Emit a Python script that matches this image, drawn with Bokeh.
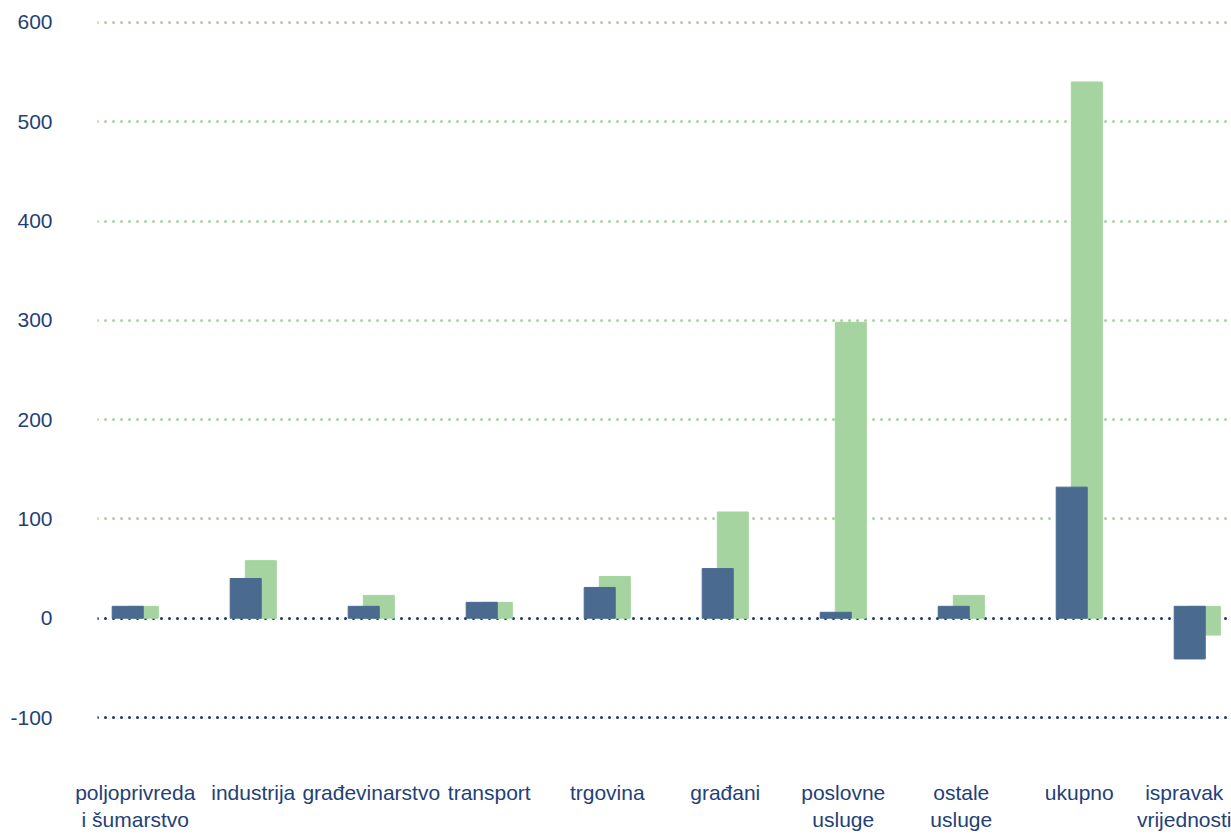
from bokeh.plotting import figure
from bokeh.models import Range1d, FixedTicker, Grid, ColumnDataSource
from bokeh.embed import file_html
from bokeh.resources import INLINE

categories = ["poljoprivreda\ni šumarstvo", "industrija", "građevinarstvo", "transport",
              "trgovina", "građani", "poslovne\nusluge", "ostale\nusluge", "ukupno",
              "ispravak\nvrijednosti"]
series_a_top = [12, 40, 12, 16, 31, 50, 6, 12, 132, 12]
series_a_bottom = [0, 0, 0, 0, 0, 0, 0, 0, 0, -41]
series_b_top = [12, 58, 23, 16, 42, 107, 298, 23, 540, 12]
series_b_bottom = [0, 0, 0, 0, 0, 0, 0, 0, 0, -17]
y_ticks = [-100, 0, 100, 200, 300, 400, 500, 600]
y_tick_labels = ["-100", "0", "100", "200", "300", "400", "500", "600"]

BLUE = "#4b6a90"
GREEN = "#a6d4a0"
NAVY = "#1b3766"
TEXT = "#1f4178"
FONT = "Liberation Sans"

idx = list(range(len(categories)))
off = 0.064
w = 0.263
Y0, Y1 = -105, 614

src = ColumnDataSource(dict(
    xa=[i - off for i in idx], xb=[i + off for i in idx],
    at=series_a_top, ab=series_a_bottom, bt=series_b_top, bb=series_b_bottom))

p = figure(width=1231, height=835, output_backend="svg", toolbar_location=None,
           x_range=Range1d(-0.32, 9.29), y_range=Range1d(Y0, Y1),
           min_border_left=97, min_border_right=0, min_border_top=8, min_border_bottom=113)
p.outline_line_color = None
p.background_fill_color = "white"

p.vbar(x="xb", top="bt", bottom="bb", width=w, color=GREEN, source=src)
p.vbar(x="xa", top="at", bottom="ab", width=w, color=BLUE, source=src)

p.xgrid.visible = False
p.ygrid.ticker = FixedTicker(ticks=[t for t in y_ticks if t > 0])
p.ygrid.grid_line_color = GREEN
p.ygrid.grid_line_dash = "0 8"
p.ygrid.grid_line_width = 3
p.ygrid.grid_line_cap = "round"

g2 = Grid(dimension=1, ticker=FixedTicker(ticks=[t for t in y_ticks if t <= 0]),
          grid_line_color=NAVY, grid_line_dash="0 8", grid_line_width=3,
          grid_line_cap="round")
p.add_layout(g2)

ya = p.yaxis[0]
ya.ticker = FixedTicker(ticks=y_ticks)
ya.major_label_overrides = {t: l for t, l in zip(y_ticks, y_tick_labels)}
ya.axis_line_color = None
ya.major_tick_line_color = None
ya.minor_tick_line_color = None
ya.major_tick_out = 0
ya.minor_tick_out = 0
ya.major_label_text_font = FONT
ya.major_label_text_font_size = "21px"
ya.major_label_text_color = TEXT
ya.major_label_standoff = 45

xa = p.xaxis[0]
xa.ticker = FixedTicker(ticks=idx)
xa.major_label_overrides = {i: c for i, c in zip(idx, categories)}
xa.axis_line_color = None
xa.major_tick_line_color = None
xa.minor_tick_line_color = None
xa.major_tick_out = 0
xa.minor_tick_out = 0
xa.major_label_text_font = FONT
xa.major_label_text_font_size = "21px"
xa.major_label_text_color = TEXT
xa.major_label_standoff = 58

open("out.html", "w").write(file_html(p, INLINE))
